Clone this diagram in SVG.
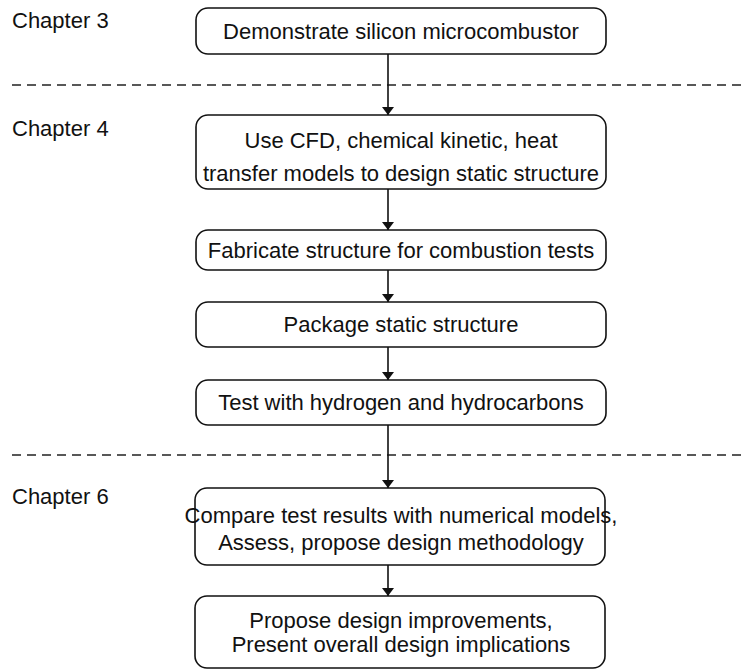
<svg xmlns="http://www.w3.org/2000/svg" width="748" height="670" viewBox="0 0 748 670">
<style>
.box{fill:#fff;stroke:#111;stroke-width:1.6}
.t{font-family:"Liberation Sans",Arial,sans-serif;font-size:22px;fill:#111;text-anchor:middle}
.ch{font-family:"Liberation Sans",Arial,sans-serif;font-size:22px;fill:#111}
.dash{stroke:#222;stroke-width:1.4;stroke-dasharray:9 6;fill:none}
.ln{stroke:#111;stroke-width:1.6;fill:none;marker-end:url(#ah)}
</style>
<defs>
<marker id="ah" viewBox="0 0 8 12" refX="8" refY="6" markerWidth="8" markerHeight="12" markerUnits="userSpaceOnUse" orient="auto-start-reverse">
<path d="M0,0 L8,6 L0,12 Z" fill="#111" transform="rotate(0)"/>
</marker>
</defs>
<rect width="748" height="670" fill="#fff"/>
<g id="labels">
<text class="ch" x="12" y="28">Chapter 3</text>
<text class="ch" x="12" y="136">Chapter 4</text>
<text class="ch" x="12" y="504">Chapter 6</text>
</g>
<g id="separators">
<line class="dash" x1="12" y1="85" x2="742" y2="85"/>
<line class="dash" x1="12" y1="455" x2="742" y2="455"/>
</g>
<g id="connectors">
<line class="ln" x1="388" y1="54" x2="388" y2="115"/>
<line class="ln" x1="388" y1="189" x2="388" y2="230"/>
<line class="ln" x1="388" y1="270" x2="388" y2="302"/>
<line class="ln" x1="388" y1="347" x2="388" y2="380"/>
<line class="ln" x1="388" y1="425" x2="388" y2="488"/>
<line class="ln" x1="388" y1="565" x2="388" y2="596"/>
</g>
<g id="n1">
<rect class="box" x="196" y="8" width="410" height="46" rx="12"/>
<text class="t" x="401" y="39">Demonstrate silicon microcombustor</text>
</g>
<g id="n2">
<rect class="box" x="196" y="115" width="410" height="74" rx="12"/>
<text class="t" x="401" y="148">Use CFD, chemical kinetic, heat</text>
<text class="t" x="401" y="181">transfer models to design static structure</text>
</g>
<g id="n3">
<rect class="box" x="196" y="230" width="410" height="40" rx="12"/>
<text class="t" x="401" y="258">Fabricate structure for combustion tests</text>
</g>
<g id="n4">
<rect class="box" x="196" y="302" width="410" height="45" rx="12"/>
<text class="t" x="401" y="332">Package static structure</text>
</g>
<g id="n5">
<rect class="box" x="196" y="380" width="410" height="45" rx="12"/>
<text class="t" x="401" y="410">Test with hydrogen and hydrocarbons</text>
</g>
<g id="n6">
<rect class="box" x="195" y="488" width="410" height="77" rx="12"/>
<text class="t" x="401" y="523">Compare test results with numerical models,</text>
<text class="t" x="401" y="550">Assess, propose design methodology</text>
</g>
<g id="n7">
<rect class="box" x="195" y="596" width="410" height="72" rx="12"/>
<text class="t" x="401" y="628">Propose design improvements,</text>
<text class="t" x="401" y="652">Present overall design implications</text>
</g>
</svg>
